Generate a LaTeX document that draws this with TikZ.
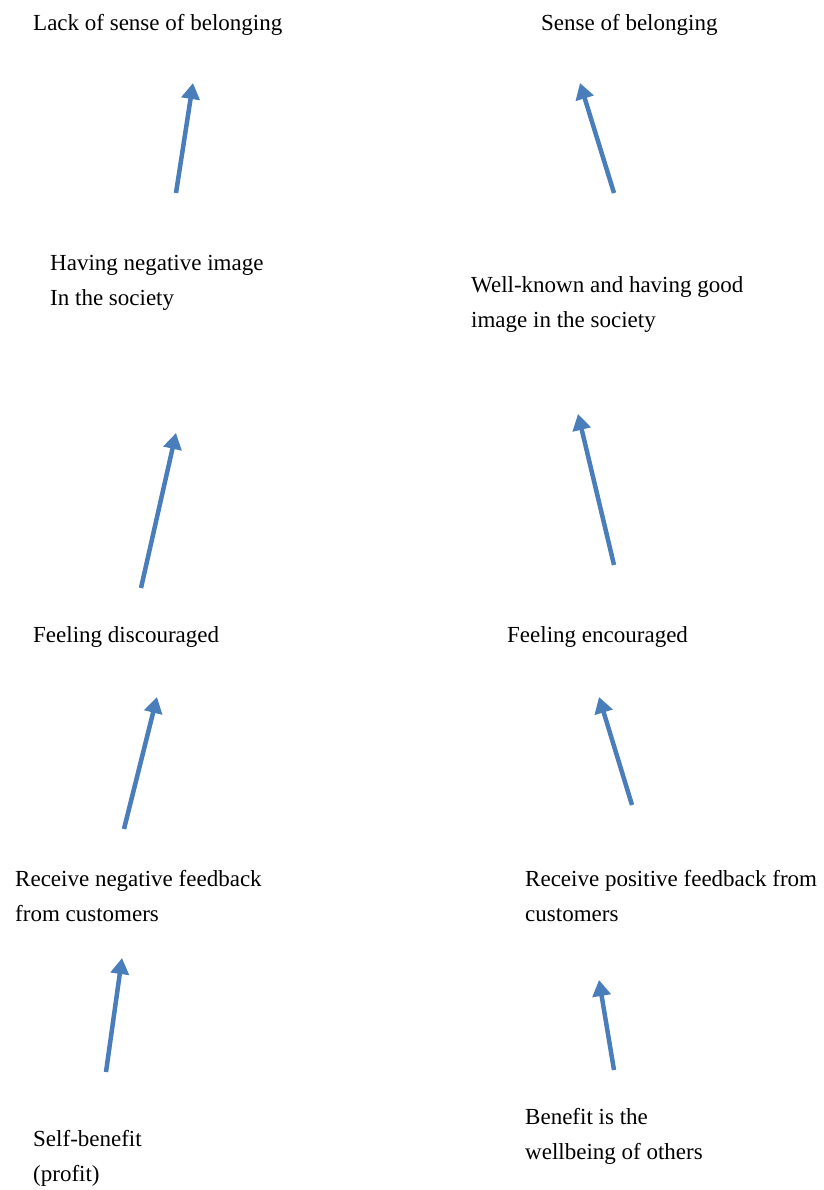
\documentclass[tikz,border=0pt]{standalone}
\usepackage{fontspec}
\setmainfont{Liberation Serif}
\usetikzlibrary{arrows.meta,positioning}
\definecolor{arrowblue}{RGB}{74,126,187}
\tikzset{
  label/.style={anchor=west,inner sep=0pt,align=left,font=\fontsize{23}{35}\selectfont},
  up/.style={color=arrowblue,line width=4.5pt,-{Triangle[width=18pt,length=16pt]}}
}
\begin{document}
\begin{tikzpicture}[x=1pt,y=1pt]
   \useasboundingbox (0,0) rectangle (823,-1190);
   % left column
   \node[label] (lack)   at (33,-25)   {Lack of sense of belonging};
   \node[label] (negimg) at (50,-283)  {Having negative image\\In the society};
   \node[label] (disc)   at (33,-637)  {Feeling discouraged};
   \node[label] (negfb)  at (15,-896)  {Receive negative feedback\\from customers};
   \node[label] (self)   at (33,-1158) {Self-benefit\\(profit)};
   % right column
   \node[label] (sense)  at (541,-25)  {Sense of belonging};
   \node[label] (goodimg) at (471,-305) {Well-known and having good\\image in the society};
   \node[label] (enc)    at (507,-637) {Feeling encouraged};
   \node[label] (posfb)  at (525,-896) {Receive positive feedback from\\customers};
   \node[label] (others) at (525,-1136) {Benefit is the\\wellbeing of others};
   % arrow ends
   \coordinate (l1t) at (176,-193);  \coordinate (l1h) at (193,-83);
   \coordinate (l2t) at (141,-588);  \coordinate (l2h) at (176,-433);
   \coordinate (l3t) at (124,-829);  \coordinate (l3h) at (157,-697);
   \coordinate (l4t) at (106,-1072); \coordinate (l4h) at (122,-958);
   \coordinate (r1t) at (614,-193);  \coordinate (r1h) at (580,-83);
   \coordinate (r2t) at (614,-565);  \coordinate (r2h) at (578,-414);
   \coordinate (r3t) at (632,-805);  \coordinate (r3h) at (599,-697);
   \coordinate (r4t) at (614,-1070); \coordinate (r4h) at (599,-980);
   \draw[up] (l1t) -- (l1h);
   \draw[up] (l2t) -- (l2h);
   \draw[up] (l3t) -- (l3h);
   \draw[up] (l4t) -- (l4h);
   \draw[up] (r1t) -- (r1h);
   \draw[up] (r2t) -- (r2h);
   \draw[up] (r3t) -- (r3h);
   \draw[up] (r4t) -- (r4h);
\end{tikzpicture}
\end{document}
